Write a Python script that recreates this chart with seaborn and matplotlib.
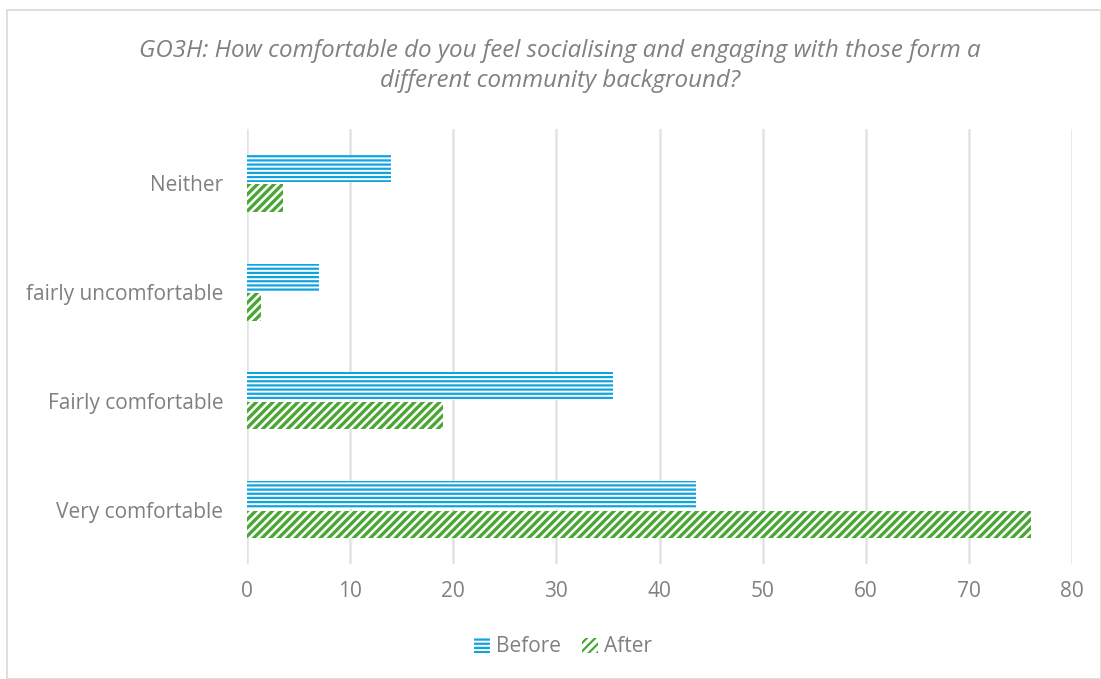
import matplotlib
matplotlib.use("Agg")
import matplotlib.pyplot as plt
import seaborn as sns
import pandas as pd
from matplotlib.patches import Rectangle, Patch

categories = ["Neither", "fairly uncomfortable", "Fairly comfortable", "Very comfortable"]
before = [14, 7, 35.5, 43.5]
after = [3.5, 1.4, 19, 76]
series = ["Before", "After"]
x_ticks = [0, 10, 20, 30, 40, 50, 60, 70, 80]
title = "GO3H: How comfortable do you feel socialising and engaging with those form a\ndifferent community background?"

BLUE = "#0FA3E0"
GREEN = "#4AA635"
GRAY = "#808080"

df = pd.DataFrame({
    "category": categories * 2,
    "value": before + after,
    "series": [series[0]] * len(categories) + [series[1]] * len(categories),
})

sns.set_theme(style="white")
plt.rcParams["font.family"] = ["Open Sans", "DejaVu Sans"]
plt.rcParams["hatch.linewidth"] = 1.6

fig = plt.figure(figsize=(11.01, 6.79), dpi=100)
ax = fig.add_axes([247/1101, 1-564/679, (1072-247)/1101, (564-129)/679])

sns.barplot(data=df, y="category", x="value", hue="series", order=categories,
            hue_order=series, orient="h", ax=ax, width=0.54, gap=0.06,
            palette={"Before": "white", "After": "white"}, legend=False, saturation=1)

BEFORE_HATCH = "----"
AFTER_HATCH = "////"

n = len(categories)
for i, p in enumerate(ax.patches[:2*n]):
    p.set_facecolor("white")
    p.set_linewidth(0)
    if i < n:
        p.set_edgecolor(BLUE)
        p.set_hatch(BEFORE_HATCH)
        try:
            p.set_hatch_linewidth(1.6)
        except Exception:
            pass
    else:
        p.set_edgecolor(GREEN)
        p.set_hatch(AFTER_HATCH)
        try:
            p.set_hatch_linewidth(2.4)
        except Exception:
            pass

ax.set_xlim(0, 80)
ax.set_xticks(x_ticks)
ax.set_xticklabels([str(t) for t in x_ticks])
ax.grid(axis="x", color="#E2E2E2", linewidth=1.8)
ax.set_axisbelow(True)
for s in ax.spines.values():
    s.set_visible(False)
ax.tick_params(axis="both", length=0, colors=GRAY, labelsize=15)
ax.tick_params(axis="y", pad=17)
ax.tick_params(axis="x", pad=12)
ax.set_xlabel("")
ax.set_ylabel("")

fig.text(560/1101, 1-66/679, title, ha="center", va="center", fontsize=17.4,
         style="italic", color=GRAY, linespacing=1.35)

handles = [Patch(facecolor="white", edgecolor=BLUE, hatch=BEFORE_HATCH, linewidth=0),
           Patch(facecolor="white", edgecolor=GREEN, hatch=AFTER_HATCH, linewidth=0)]
leg = fig.legend(handles, series, loc="center", bbox_to_anchor=(563/1101, 1-647/679),
                 ncol=2, frameon=False, fontsize=15, handlelength=0.75, handleheight=0.75,
                 handletextpad=0.3, columnspacing=1.0)
for t in leg.get_texts():
    t.set_color(GRAY)

fig.patches.append(Rectangle((7/1101, 0), 1 - 7/1101, 1 - 10/679, transform=fig.transFigure,
                             fill=False, edgecolor="#D9D9D9", linewidth=1.2))

fig.savefig("out.png", dpi=100, facecolor="white")
